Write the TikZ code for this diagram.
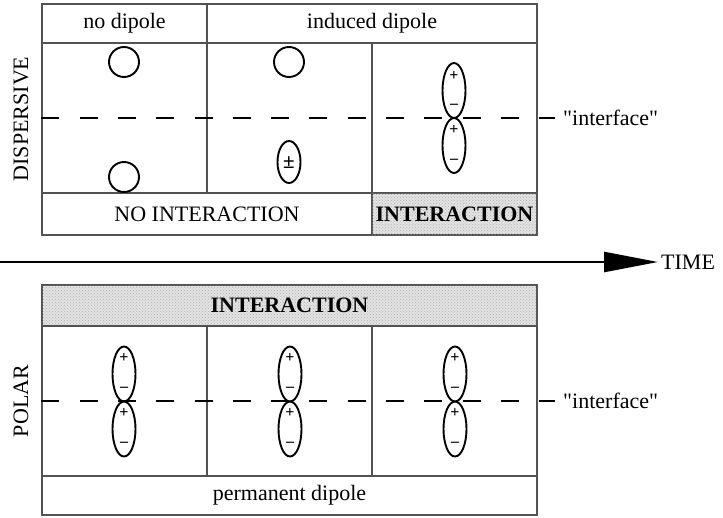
\documentclass[tikz,border=0pt]{standalone}
\usepackage{fontspec}
\setmainfont{Liberation Serif}
\newfontfamily\plainq{Liberation Serif}
\usetikzlibrary{arrows.meta,shapes.geometric,patterns}
\definecolor{boxc}{gray}{0.32}
\begin{document}
\begin{tikzpicture}[x=1pt,y=-1pt,
  txt/.style={font=\fontsize{22}{26}\selectfont},
  cell/.style={txt, draw=boxc, line width=1.4pt, rectangle, inner sep=0pt},
  shadecell/.style={cell, fill=gray!22, postaction={pattern=crosshatch dots, pattern color=gray!60}},
  mol/.style={draw, ellipse, line width=1.9pt, minimum width=23pt, minimum height=55pt, inner sep=0pt},
  smallmol/.style={mol, minimum height=42pt},
  atom/.style={draw, circle, line width=1.9pt, minimum size=30pt, inner sep=0pt},
  sgn/.style={font=\fontsize{16}{16}\selectfont\bfseries, inner sep=0pt},
  iface/.style={dash pattern=on 18pt off 20.3pt, line width=2pt},
  side/.style={txt, rotate=90}]
\useasboundingbox (0,0) rectangle (723,517);

% ---------- top (dispersive) box ----------
\node[cell, minimum width=165pt, minimum height=39pt] (h1) at (124.5,23.5) {no dipole};
\node[cell, minimum width=330pt, minimum height=39pt] (h2) at (372,23.5) {induced dipole};
\node[cell, minimum width=165pt, minimum height=150pt] (b1) at (124.5,118) {};
\node[cell, minimum width=165pt, minimum height=150pt] (b2) at (289.5,118) {};
\node[cell, minimum width=165pt, minimum height=150pt] (b3) at (454.5,118) {};
\node[cell, minimum width=330pt, minimum height=42pt] (f1) at (207,214) {NO INTERACTION};
\node[shadecell, minimum width=165pt, minimum height=42pt] (f2) at (454.5,214) {\bfseries INTERACTION};

\node[side] (disp) at (21,119) {DISPERSIVE};

\node[txt, anchor=west, inner sep=8pt] (t1) at (555,118) {\plainq "interface"};
\draw[iface] (b1.west) -- (t1.west);

\node[atom] (a1) at (124,62) {};
\node[atom] (a2) at (124,177) {};
\node[atom] (a3) at (289,62) {};
\node[smallmol] (m0) at (289,162) {};
\node[sgn, font=\fontsize{21}{21}\selectfont\bfseries] (m0s) at (289,163) {±};

\node[mol] (d1) at (454,90.5) {};
\node[mol] (d2) at (454,145.5) {};
\node[sgn, yshift=15pt] (d1p) at (d1) {+};
\node[sgn, yshift=-16pt] (d1m) at (d1) {--};
\node[sgn, yshift=16pt] (d2p) at (d2) {+};
\node[sgn, yshift=-16pt] (d2m) at (d2) {--};

% ---------- time arrow ----------
\coordinate (a0) at (0,262);
\node[txt, anchor=west, inner sep=3pt] (time) at (658,262) {TIME};
\draw[line width=2.5pt, -{Triangle[length=54pt,width=20pt]}] (a0) -- (time.west);

% ---------- bottom (polar) box ----------
\node[shadecell, minimum width=495pt, minimum height=41pt] (g0) at (289.5,305.5) {\bfseries INTERACTION};
\node[cell, minimum width=165pt, minimum height=150pt] (c1) at (124.5,401) {};
\node[cell, minimum width=165pt, minimum height=150pt] (c2) at (289.5,401) {};
\node[cell, minimum width=165pt, minimum height=150pt] (c3) at (454.5,401) {};
\node[cell, minimum width=495pt, minimum height=39pt] (p) at (289.5,495.5) {permanent dipole};

\node[side] (polar) at (21,401) {POLAR};

\node[txt, anchor=west, inner sep=8pt] (t2) at (555,401) {\plainq "interface"};
\draw[iface] (c1.west) -- (t2.west);

\node[mol] (e1) at (124,374) {};
\node[mol] (e2) at (124,429) {};
\node[mol] (e3) at (290,374) {};
\node[mol] (e4) at (290,429) {};
\node[mol] (e5) at (455,374) {};
\node[mol] (e6) at (455,429) {};
\foreach \e in {e1,e2,e3,e4,e5,e6}{
  \node[sgn, yshift=16pt] (\e p) at (\e) {+};
  \node[sgn, yshift=-15pt] (\e m) at (\e) {--};
}
\end{tikzpicture}
\end{document}
